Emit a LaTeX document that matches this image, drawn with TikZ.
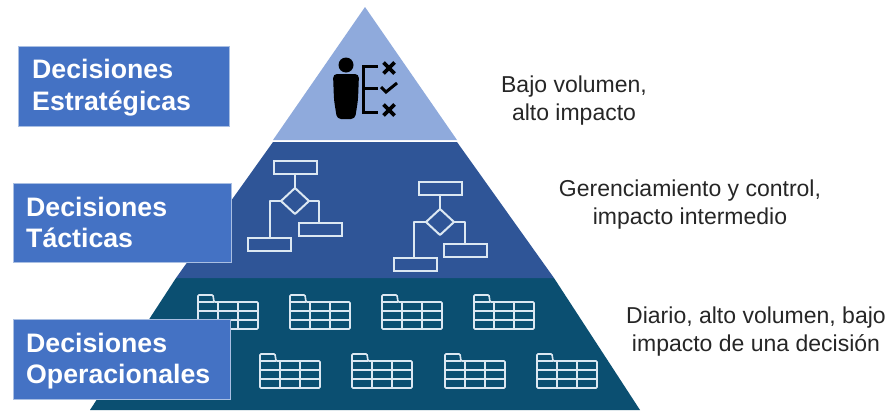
\documentclass[tikz,border=0pt]{standalone}
\usepackage{fontspec}
\setmainfont{Liberation Sans}
\definecolor{tierA}{HTML}{8FAADC}
\definecolor{tierB}{HTML}{2F5597}
\definecolor{tierC}{HTML}{0B4F71}
\definecolor{boxblue}{HTML}{4472C4}
\definecolor{boxedge}{HTML}{A9BFE3}
\definecolor{iconline}{HTML}{DCE8F2}
\definecolor{labeltext}{HTML}{262626}
\tikzset{
  levelbox/.style={fill=boxblue,draw=boxedge,line width=1.2pt,anchor=north west,inner sep=0pt},
  levelname/.style={text=white,font=\bfseries\fontsize{26.7}{31.5}\selectfont,anchor=west,align=left,inner sep=0pt},
  sidetext/.style={text=labeltext,font=\fontsize{23}{28}\selectfont,align=center,inner sep=0pt},
  flowbox/.style={draw=iconline,line width=2pt,minimum width=43pt,minimum height=13pt,inner sep=0pt},
  flowdia/.style={draw=iconline,line width=2pt,line join=round},
  tableline/.style={draw=iconline,line width=1.6pt},
  darkmark/.style={draw=black,line width=3.8pt},
}
\newcommand{\tableicon}[2]{%
  \begin{scope}[shift={(#1,#2)}]
    \draw[tableline,rounded corners=1pt] (0,7) -- (0,0) -- (15,0) -- (16,7) -- (60,7) -- (60,34) -- (0,34) -- cycle;
    \draw[tableline] (0,7) -- (16,7);
    \draw[tableline] (0,16) -- (60,16) (0,25) -- (60,25);
    \draw[tableline] (20,7) -- (20,34) (40,7) -- (40,34);
  \end{scope}}
\newcommand{\flowicon}[8]{%
  \node[flowbox] (ft) at (#1,#2) {};
  \node[flowbox] (fl) at (#3,#4) {};
  \node[flowbox] (fr) at (#5,#6) {};
  \coordinate (dc) at (#1,#2+34);
  \draw[flowdia] ([xshift=-14pt]dc) coordinate (dl) -- ([yshift=13pt]dc) coordinate (dt) -- ([xshift=14pt]dc) coordinate (dr) -- ([yshift=-13pt]dc) coordinate (db) -- cycle;
  \draw[flowdia] (ft.south) -- (dt);
  \draw[flowdia] (dl) -- (#7,#2+34) -- (fl.north -| #7,0);
  \draw[flowdia] (dr) -- (#8,#2+34) -- (fr.north -| #8,0);
}
\begin{document}
\begin{tikzpicture}[x=1pt,y=-1pt]
\useasboundingbox (0,0) rectangle (891,410);
% pyramid
\fill[tierC] (176,278) -- (554,278) -- (640,410) -- (90,410) -- cycle;
\fill[tierB] (273,142) -- (457,142) -- (554,278) -- (176,278) -- cycle;
\fill[tierA] (365,7) -- (457,140) -- (273,140) -- cycle;
% person and list
\fill[black] (346,65) circle (7.5);
\fill[black,rounded corners=4pt] (333,74) -- (359,74) -- (358,100) -- (355,119) -- (337,119) -- (334,100) -- cycle;
\draw[black,line width=3pt] (378,66) -- (363,66) -- (363,112) -- (378,112) (363,88) -- (378,88);
\draw[darkmark] (383.5,62.5) -- (394.5,73.5) (394.5,62.5) -- (383.5,73.5);
\draw[darkmark,line width=3pt] (381,87) -- (386,92) -- (397,83);
\draw[darkmark] (383.5,104.5) -- (394.5,115.5) (394.5,104.5) -- (383.5,115.5);
% flowcharts
\flowicon{295}{167}{269}{244}{320}{229}{270}{319}
\flowicon{440}{188}{415}{264}{465}{250}{414}{465}
% tables
\tableicon{198}{295}\tableicon{290}{295}\tableicon{382}{295}\tableicon{474}{295}
\tableicon{260}{354}\tableicon{352}{354}\tableicon{445}{354}\tableicon{537}{354}
% level boxes
\node[levelbox,minimum width=211pt,minimum height=80pt] (b1) at (18,46) {};
\node[levelbox,minimum width=218pt,minimum height=79pt] (b2) at (13,183) {};
\node[levelbox,minimum width=217pt,minimum height=80pt] (b3) at (13,319) {};
\node[levelname] (t1) at (32,87.5) {Decisiones\\Estratégicas};
\node[levelname] (t2) at (26,222.5) {Decisiones\\Tácticas};
\node[levelname] (t3) at (26,361) {Decisiones\\Operacionales};
% side texts
\node[sidetext] (s1) at (574,101) {Bajo volumen,\\alto impacto};
\node[sidetext] (s2) at (690,205) {Gerenciamiento y control,\\impacto intermedio};
\node[sidetext] (s3) at (756,331.5) {Diario, alto volumen, bajo\\impacto de una decisión};
\end{tikzpicture}
\end{document}
